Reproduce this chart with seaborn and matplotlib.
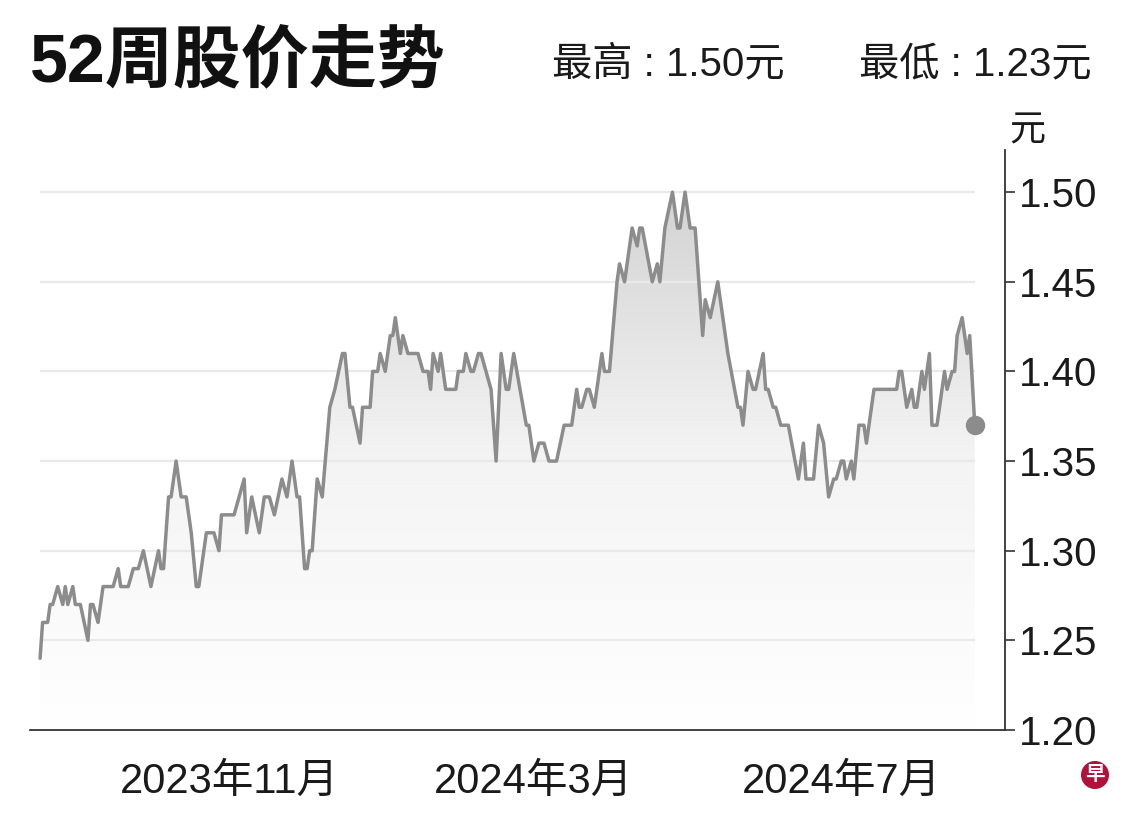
import matplotlib
matplotlib.use("Agg")
import matplotlib.pyplot as plt
import matplotlib.dates as mdates
from matplotlib.colors import LinearSegmentedColormap
import seaborn as sns
import numpy as np
import pandas as pd

# 收盘价
dates = [
    "2023-08-18", "2023-08-19", "2023-08-21", "2023-08-22", "2023-08-23", "2023-08-25", "2023-08-27", "2023-08-28", "2023-08-29", "2023-08-31",
    "2023-09-01", "2023-09-03", "2023-09-06", "2023-09-07", "2023-09-08", "2023-09-10", "2023-09-12", "2023-09-16", "2023-09-18", "2023-09-19",
    "2023-09-22", "2023-09-24", "2023-09-26", "2023-09-28", "2023-10-01", "2023-10-04", "2023-10-05", "2023-10-06", "2023-10-08", "2023-10-09",
    "2023-10-11", "2023-10-13", "2023-10-15", "2023-10-17", "2023-10-19", "2023-10-20", "2023-10-23", "2023-10-26", "2023-10-28", "2023-10-29",
    "2023-11-03", "2023-11-07", "2023-11-08", "2023-11-10", "2023-11-13", "2023-11-15", "2023-11-17", "2023-11-19", "2023-11-22", "2023-11-24",
    "2023-11-26", "2023-11-28", "2023-11-29", "2023-12-01", "2023-12-02", "2023-12-03", "2023-12-04", "2023-12-06", "2023-12-08", "2023-12-11",
    "2023-12-13", "2023-12-16", "2023-12-17", "2023-12-19", "2023-12-20", "2023-12-23", "2023-12-24", "2023-12-27", "2023-12-28", "2023-12-30",
    "2023-12-31", "2024-01-02", "2024-01-04", "2024-01-05", "2024-01-06", "2024-01-08", "2024-01-09", "2024-01-11", "2024-01-15", "2024-01-17",
    "2024-01-19", "2024-01-20", "2024-01-21", "2024-01-23", "2024-01-24", "2024-01-26", "2024-01-30", "2024-01-31", "2024-02-02", "2024-02-03",
    "2024-02-05", "2024-02-06", "2024-02-08", "2024-02-09", "2024-02-13", "2024-02-15", "2024-02-17", "2024-02-19", "2024-02-20", "2024-02-22",
    "2024-02-27", "2024-02-28", "2024-03-01", "2024-03-03", "2024-03-05", "2024-03-07", "2024-03-10", "2024-03-13", "2024-03-16", "2024-03-18",
    "2024-03-19", "2024-03-20", "2024-03-22", "2024-03-23", "2024-03-25", "2024-03-28", "2024-03-29", "2024-03-31", "2024-04-03", "2024-04-04",
    "2024-04-06", "2024-04-09", "2024-04-11", "2024-04-12", "2024-04-13", "2024-04-17", "2024-04-19", "2024-04-20", "2024-04-22", "2024-04-25",
    "2024-04-27", "2024-04-28", "2024-04-30", "2024-05-02", "2024-05-04", "2024-05-07", "2024-05-08", "2024-05-10", "2024-05-13", "2024-05-14",
    "2024-05-17", "2024-05-21", "2024-05-22", "2024-05-23", "2024-05-25", "2024-05-27", "2024-05-28", "2024-05-31", "2024-06-01", "2024-06-02",
    "2024-06-04", "2024-06-05", "2024-06-07", "2024-06-10", "2024-06-14", "2024-06-16", "2024-06-17", "2024-06-20", "2024-06-22", "2024-06-24",
    "2024-06-26", "2024-06-28", "2024-06-29", "2024-07-01", "2024-07-02", "2024-07-03", "2024-07-05", "2024-07-06", "2024-07-08", "2024-07-10",
    "2024-07-11", "2024-07-14", "2024-07-23", "2024-07-24", "2024-07-25", "2024-07-27", "2024-07-29", "2024-07-30", "2024-07-31", "2024-08-02",
    "2024-08-03", "2024-08-05", "2024-08-06", "2024-08-08", "2024-08-11", "2024-08-12", "2024-08-14", "2024-08-15", "2024-08-16", "2024-08-18",
    "2024-08-20", "2024-08-21", "2024-08-23",
]
prices = [
    1.24, 1.26, 1.26, 1.27, 1.27, 1.28, 1.27, 1.28, 1.27, 1.28,
    1.27, 1.27, 1.25, 1.27, 1.27, 1.26, 1.28, 1.28, 1.29, 1.28,
    1.28, 1.29, 1.29, 1.30, 1.28, 1.30, 1.29, 1.29, 1.33, 1.33,
    1.35, 1.33, 1.33, 1.31, 1.28, 1.28, 1.31, 1.31, 1.30, 1.32,
    1.32, 1.34, 1.31, 1.33, 1.31, 1.33, 1.33, 1.32, 1.34, 1.33,
    1.35, 1.33, 1.33, 1.29, 1.29, 1.30, 1.30, 1.34, 1.33, 1.38,
    1.39, 1.41, 1.41, 1.38, 1.38, 1.36, 1.38, 1.38, 1.40, 1.40,
    1.41, 1.40, 1.42, 1.42, 1.43, 1.41, 1.42, 1.41, 1.41, 1.40,
    1.40, 1.39, 1.41, 1.40, 1.41, 1.39, 1.39, 1.40, 1.40, 1.41,
    1.40, 1.40, 1.41, 1.41, 1.39, 1.35, 1.41, 1.39, 1.39, 1.41,
    1.37, 1.37, 1.35, 1.36, 1.36, 1.35, 1.35, 1.37, 1.37, 1.39,
    1.38, 1.38, 1.39, 1.39, 1.38, 1.41, 1.40, 1.40, 1.45, 1.46,
    1.45, 1.48, 1.47, 1.48, 1.48, 1.45, 1.46, 1.45, 1.48, 1.50,
    1.48, 1.48, 1.50, 1.48, 1.48, 1.42, 1.44, 1.43, 1.45, 1.44,
    1.41, 1.38, 1.38, 1.37, 1.40, 1.39, 1.39, 1.41, 1.39, 1.39,
    1.38, 1.38, 1.37, 1.37, 1.34, 1.36, 1.34, 1.34, 1.37, 1.36,
    1.33, 1.34, 1.34, 1.35, 1.35, 1.34, 1.35, 1.34, 1.37, 1.37,
    1.36, 1.39, 1.39, 1.40, 1.40, 1.38, 1.39, 1.38, 1.38, 1.40,
    1.39, 1.41, 1.37, 1.37, 1.40, 1.39, 1.40, 1.40, 1.42, 1.43,
    1.41, 1.42, 1.37,
]

y_ticks = [1.20, 1.25, 1.30, 1.35, 1.40, 1.45, 1.50]
y_labels = ["1.20", "1.25", "1.30", "1.35", "1.40", "1.45", "1.50"]
x_ticks = ["2023-11-01", "2024-03-01", "2024-07-01"]
x_labels = ["2023年11月", "2024年3月", "2024年7月"]
title = "52周股价走势"
high_text = "最高 : 1.50元"
low_text = "最低 : 1.23元"
unit = "元"

sns.set_theme(style="white")
plt.rcParams['font.family'] = ['Liberation Sans', 'Noto Sans CJK SC']
plt.rcParams['axes.unicode_minus'] = False

df = pd.DataFrame({"date": pd.to_datetime(dates), "price": prices})

fig = plt.figure(figsize=(11.4, 8.21), dpi=100)
ax = fig.add_axes([30 / 1140, 91 / 821, 975 / 1140, 580 / 821])

sns.lineplot(data=df, x="date", y="price", color="#8c8c8c", linewidth=2.5, ax=ax, zorder=3)

# 渐变填充
poly = ax.fill_between(df["date"], df["price"], 1.20, facecolor="none", edgecolor="none")
xn = mdates.date2num(df["date"])
cmap = LinearSegmentedColormap.from_list("fade", ["#ffffff", "#f4f4f4", "#d3d3d3"])
img = ax.imshow(np.linspace(0, 1, 256).reshape(-1, 1), extent=[xn[0], xn[-1], 1.20, 1.50],
                origin="lower", aspect="auto", cmap=cmap, zorder=1)
img.set_clip_path(poly.get_paths()[0], transform=ax.transData)

ax.hlines(y_ticks[1:], df["date"].iloc[0], df["date"].iloc[-1], colors="#e9e9e9", lw=1.6, zorder=2)
ax.plot(df["date"].iloc[-1], df["price"].iloc[-1], "o", ms=13, color="#8c8c8c", zorder=4)

ax.set_xlim(pd.Timestamp("2023-08-14"), pd.Timestamp("2024-09-04"))
ax.set_ylim(1.20, 1.5235)
ax.set_xlabel("")
ax.set_ylabel("")

for s in ["left", "top"]:
    ax.spines[s].set_visible(False)
for s in ["right", "bottom"]:
    ax.spines[s].set_color("#333333")
    ax.spines[s].set_linewidth(1.3)

ax.yaxis.tick_right()
ax.set_yticks(y_ticks)
ax.set_yticklabels(y_labels)
ax.set_xticks(pd.to_datetime(x_ticks))
ax.set_xticklabels(x_labels)
ax.tick_params(axis="y", length=7, width=1.2, color="#333333", pad=3, labelsize=29, labelcolor="#1a1a1a")
ax.tick_params(axis="x", length=18, width=1.0, color="#333333", pad=5, labelsize=30, labelcolor="#1a1a1a")

fig.text(30 / 1140, 1 - 64 / 821, title, fontsize=49, fontweight="bold", color="#111111", va="center", ha="left")
fig.text(552 / 1140, 1 - 64 / 821, high_text, fontsize=29, color="#1a1a1a", va="center", ha="left")
fig.text(1092 / 1140, 1 - 64 / 821, low_text, fontsize=29, color="#1a1a1a", va="center", ha="right")
fig.text(1027 / 1140, 1 - 131 / 821, unit, fontsize=26, color="#1a1a1a", va="center", ha="center")
fig.text(1095 / 1140, 1 - 775 / 821, "早", fontsize=14, color="white", fontweight="bold", va="center", ha="center",
         bbox=dict(boxstyle="circle,pad=0.22", facecolor="#b0123a", edgecolor="none"))

fig.savefig("out.png", dpi=100)
